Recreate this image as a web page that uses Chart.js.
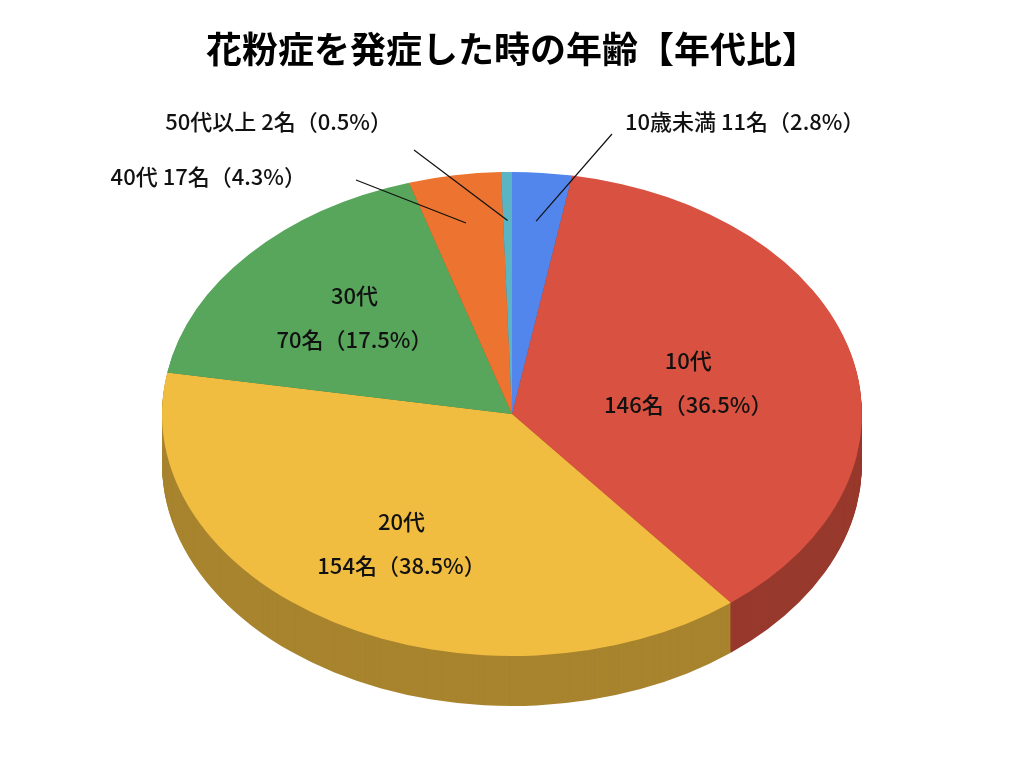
<!DOCTYPE html>
<html>
<head>
<meta charset="utf-8">
<script src="https://cdn.jsdelivr.net/npm/chart.js@4"></script>
<style>
  body { margin: 0; background: #fff; }
  #wrap { width: 1024px; height: 768px; }
</style>
</head>
<body>
<div id="wrap"><canvas id="chart" width="1024" height="768"></canvas></div>
<script>
// データ
const labels = ['10歳未満', '10代', '20代', '30代', '40代', '50代以上'];
const counts = [11, 146, 154, 70, 17, 2];
const colors = ['#5286ec', '#d95140', '#f0bd41', '#58a65c', '#ec7430', '#5ab4c4'];
const insideLabel = [false, true, true, true, false, false];

const FONT = '"Noto Sans CJK JP", "Noto Sans", sans-serif';
const total = counts.reduce((a, b) => a + b, 0);

// 楕円の配置
const CX = 512, CY = 414, RX = 350, RY = 242, DEPTH = 50;

function darken(hex, f) {
    const n = parseInt(hex.slice(1), 16);
    const r = Math.round(((n >> 16) & 255) * f);
    const g = Math.round(((n >> 8) & 255) * f);
    const b = Math.round((n & 255) * f);
    return `rgb(${r},${g},${b})`;
}

function pct(v) {
    return (v / total * 100).toFixed(1) + '%';
}

// 楕円上の点 (角度はChart.jsの角度)
function ellipsePoint(angle, k) {
    return { x: CX + Math.cos(angle) * RX * k, y: CY + Math.sin(angle) * RY * k };
}

const pie3d = {
    id: 'pie3d',
    beforeDatasetsDraw(chart) {
        const ctx = chart.ctx;
        const meta = chart.getDatasetMeta(0);
        const r = meta.data[0].outerRadius;
        const ox = meta.data[0].x, oy = meta.data[0].y;

        const drawAll = (offset, dark) => {
            ctx.save();
            ctx.translate(CX, CY + offset);
            ctx.scale(RX / r, RY / r);
            ctx.translate(-ox, -oy);
            meta.data.forEach((arc, i) => {
                const orig = arc.options.backgroundColor;
                arc.options.backgroundColor = dark ? darken(colors[i], 0.7) : colors[i];
                arc.draw(ctx);
                arc.options.backgroundColor = orig;
            });
            ctx.restore();
        };

        // 側面
        for (let d = DEPTH; d > 0; d--) drawAll(d, true);
        // 上面
        drawAll(0, false);
        return false;
    },
    afterDraw(chart) {
        const ctx = chart.ctx;
        const meta = chart.getDatasetMeta(0);
        ctx.save();
        ctx.fillStyle = '#111';
        ctx.font = `500 22px ${FONT}`;
        ctx.textBaseline = 'middle';

        // 外側ラベルの位置
        const outside = {
            0: { tx: 625, ty: 122, align: 'left', lx: 612, ly: 134 },
            4: { tx: 306, ty: 177, align: 'right', lx: 356, ly: 180 },
            5: { tx: 392, ty: 122, align: 'right', lx: 414, ly: 150 }
        };

        meta.data.forEach((arc, i) => {
            const mid = (arc.startAngle + arc.endAngle) / 2;
            if (insideLabel[i]) {
                const k = i === 2 ? 0.62 : (i === 3 ? 0.6 : 0.52);
                const p = ellipsePoint(mid, k);
                ctx.textAlign = 'center';
                ctx.fillText(labels[i], p.x, p.y - 22);
                ctx.fillText(`${counts[i]}名（${pct(counts[i])}）`, p.x, p.y + 22);
            } else {
                const o = outside[i];
                const p = ellipsePoint(mid, 0.8);
                ctx.strokeStyle = '#111';
                ctx.lineWidth = 1.2;
                ctx.beginPath();
                ctx.moveTo(o.lx, o.ly);
                ctx.lineTo(p.x, p.y);
                ctx.stroke();
                ctx.textAlign = o.align;
                ctx.fillText(`${labels[i]} ${counts[i]}名（${pct(counts[i])}）`, o.tx, o.ty);
            }
        });
        ctx.restore();
    }
};

new Chart(document.getElementById('chart'), {
    type: 'pie',
    data: {
        labels: labels,
        datasets: [{
            data: counts,
            backgroundColor: colors,
            borderWidth: 0
        }]
    },
    options: {
        responsive: false,
        animation: false,
        layout: { padding: { top: 10, bottom: 40 } },
        plugins: {
            legend: { display: false },
            tooltip: { enabled: false },
            title: {
                display: true,
                text: '花粉症を発症した時の年齢【年代比】',
                color: '#000',
                font: { family: FONT, size: 36, weight: 'bold' },
                padding: { top: 18, bottom: 10 }
            }
        }
    },
    plugins: [pie3d]
});
</script>
</body>
</html>
